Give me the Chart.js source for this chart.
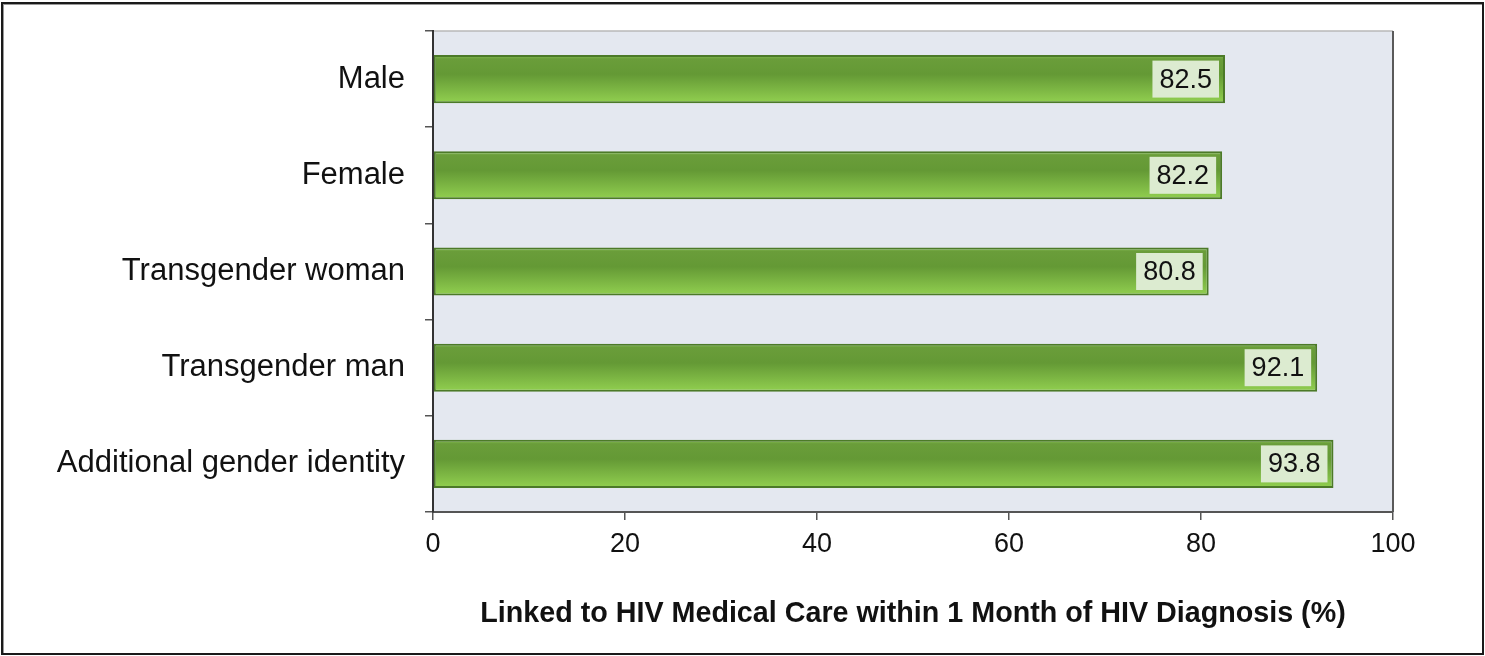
<!DOCTYPE html>
<html>
<head>
<meta charset="utf-8">
<title>Linkage to HIV care by gender identity</title>
<script src="https://cdn.jsdelivr.net/npm/chart.js@4/dist/chart.umd.min.js"></script>
<style>
  html, body { margin: 0; padding: 0; background: #fff; }
  #wrap { position: relative; width: 1485px; height: 656px; }
  #frame {
    position: absolute; left: 1px; top: 2px; right: 1px; bottom: 1px;
    border: 2px solid #1a1a1a; box-shadow: inset 1px 1px 0 #999;
    pointer-events: none;
  }
</style>
</head>
<body>
<div id="wrap">
  <canvas id="myChart" width="1485" height="656"></canvas>
  <div id="frame"></div>
</div>
<script>
const categories = [
  "Male",
  "Female",
  "Transgender woman",
  "Transgender man",
  "Additional gender identity",
];
const linkedPct = [82.5, 82.2, 80.8, 92.1, 93.8];
const xTicks = [0, 20, 40, 60, 80, 100];
const xTitle = "Linked to HIV Medical Care within 1 Month of HIV Diagnosis (%)";

const FONT = "'Liberation Sans', Arial, sans-serif";

// fill each bar with a vertical gradient spanning its own height
function barGradient(context) {
  const chart = context.chart;
  const y = chart.scales.y;
  if (!y || !chart.chartArea) return "#7fbf45";
  const band = (y.bottom - y.top) / categories.length;
  const h = band * 0.5;
  const cy = y.getPixelForValue(context.dataIndex);
  const g = chart.ctx.createLinearGradient(0, cy - h / 2, 0, cy + h / 2);
  g.addColorStop(0, "#8cc45a");
  g.addColorStop(0.08, "#6a9d3a");
  g.addColorStop(0.4, "#649935");
  g.addColorStop(1, "#92d050");
  return g;
}

// plot area background plus top and right borders
const plotFrame = {
  id: "plotFrame",
  beforeDraw(chart) {
    const { ctx, chartArea: a } = chart;
    ctx.save();
    ctx.fillStyle = "#e4e8f0";
    ctx.fillRect(a.left, a.top, a.right - a.left, a.bottom - a.top);
    ctx.strokeStyle = "#b8b8b8";
    ctx.lineWidth = 1.5;
    ctx.beginPath();
    ctx.moveTo(a.left, a.top);
    ctx.lineTo(a.right, a.top);
    ctx.stroke();
    ctx.strokeStyle = "#5a5a5a";
    ctx.lineWidth = 2;
    ctx.beginPath();
    ctx.moveTo(a.right, a.top);
    ctx.lineTo(a.right, a.bottom);
    ctx.stroke();
    ctx.restore();
  },
};

// value boxes at the inner end of each bar
const valueBoxes = {
  id: "valueBoxes",
  afterDatasetsDraw(chart) {
    const { ctx } = chart;
    const meta = chart.getDatasetMeta(0);
    ctx.save();
    ctx.font = "27px " + FONT;
    ctx.textBaseline = "middle";
    ctx.textAlign = "center";
    meta.data.forEach((bar, i) => {
      const text = linkedPct[i].toFixed(1);
      const w = ctx.measureText(text).width + 14;
      const h = 37;
      const right = bar.x - 6;
      ctx.fillStyle = "#dcebd0";
      ctx.fillRect(right - w, bar.y - h / 2, w, h);
      ctx.fillStyle = "#111";
      ctx.fillText(text, right - w / 2, bar.y + 1);
    });
    ctx.restore();
  },
};

const ctx = document.getElementById("myChart").getContext("2d");

const myChart = new Chart(ctx, {
  type: "bar",
  data: {
    labels: categories,
    datasets: [
      {
        data: linkedPct,
        backgroundColor: barGradient,
        borderColor: "#4c7a28",
        borderWidth: 2,
        borderSkipped: false,
        barPercentage: 0.5,
        categoryPercentage: 1,
      },
    ],
  },
  options: {
    indexAxis: "y",
    responsive: false,
    animation: false,
    events: [],
    layout: { padding: { top: 31, right: 92, left: 10, bottom: 0 } },
    plugins: {
      legend: { display: false },
      tooltip: { enabled: false },
    },
    scales: {
      x: {
        min: 0,
        max: 100,
        afterBuildTicks: (scale) => {
          scale.ticks = xTicks.map((v) => ({ value: v }));
        },
        afterFit: (scale) => {
          scale.height = 144;
        },
        grid: {
          drawOnChartArea: false,
          tickLength: 8,
          color: "#555",
          lineWidth: 1.5,
        },
        border: { color: "#555", width: 2 },
        ticks: {
          padding: 8,
          color: "#111",
          font: { family: FONT, size: 27 },
        },
        title: {
          display: true,
          text: xTitle,
          color: "#111",
          font: { family: FONT, size: 28.7, weight: "bold" },
          padding: { top: 0, bottom: 25 },
        },
      },
      y: {
        afterFit: (scale) => {
          scale.width = 423;
          scale.paddingTop = 0;
          scale.paddingBottom = 0;
        },
        grid: {
          drawOnChartArea: false,
          offset: true,
          tickLength: 8,
          color: "#555",
          lineWidth: 1.5,
        },
        border: { color: "#333", width: 2 },
        ticks: {
          padding: 20,
          color: "#111",
          font: { family: FONT, size: 31 },
        },
      },
    },
  },
  plugins: [plotFrame, valueBoxes],
});
</script>
</body>
</html>
